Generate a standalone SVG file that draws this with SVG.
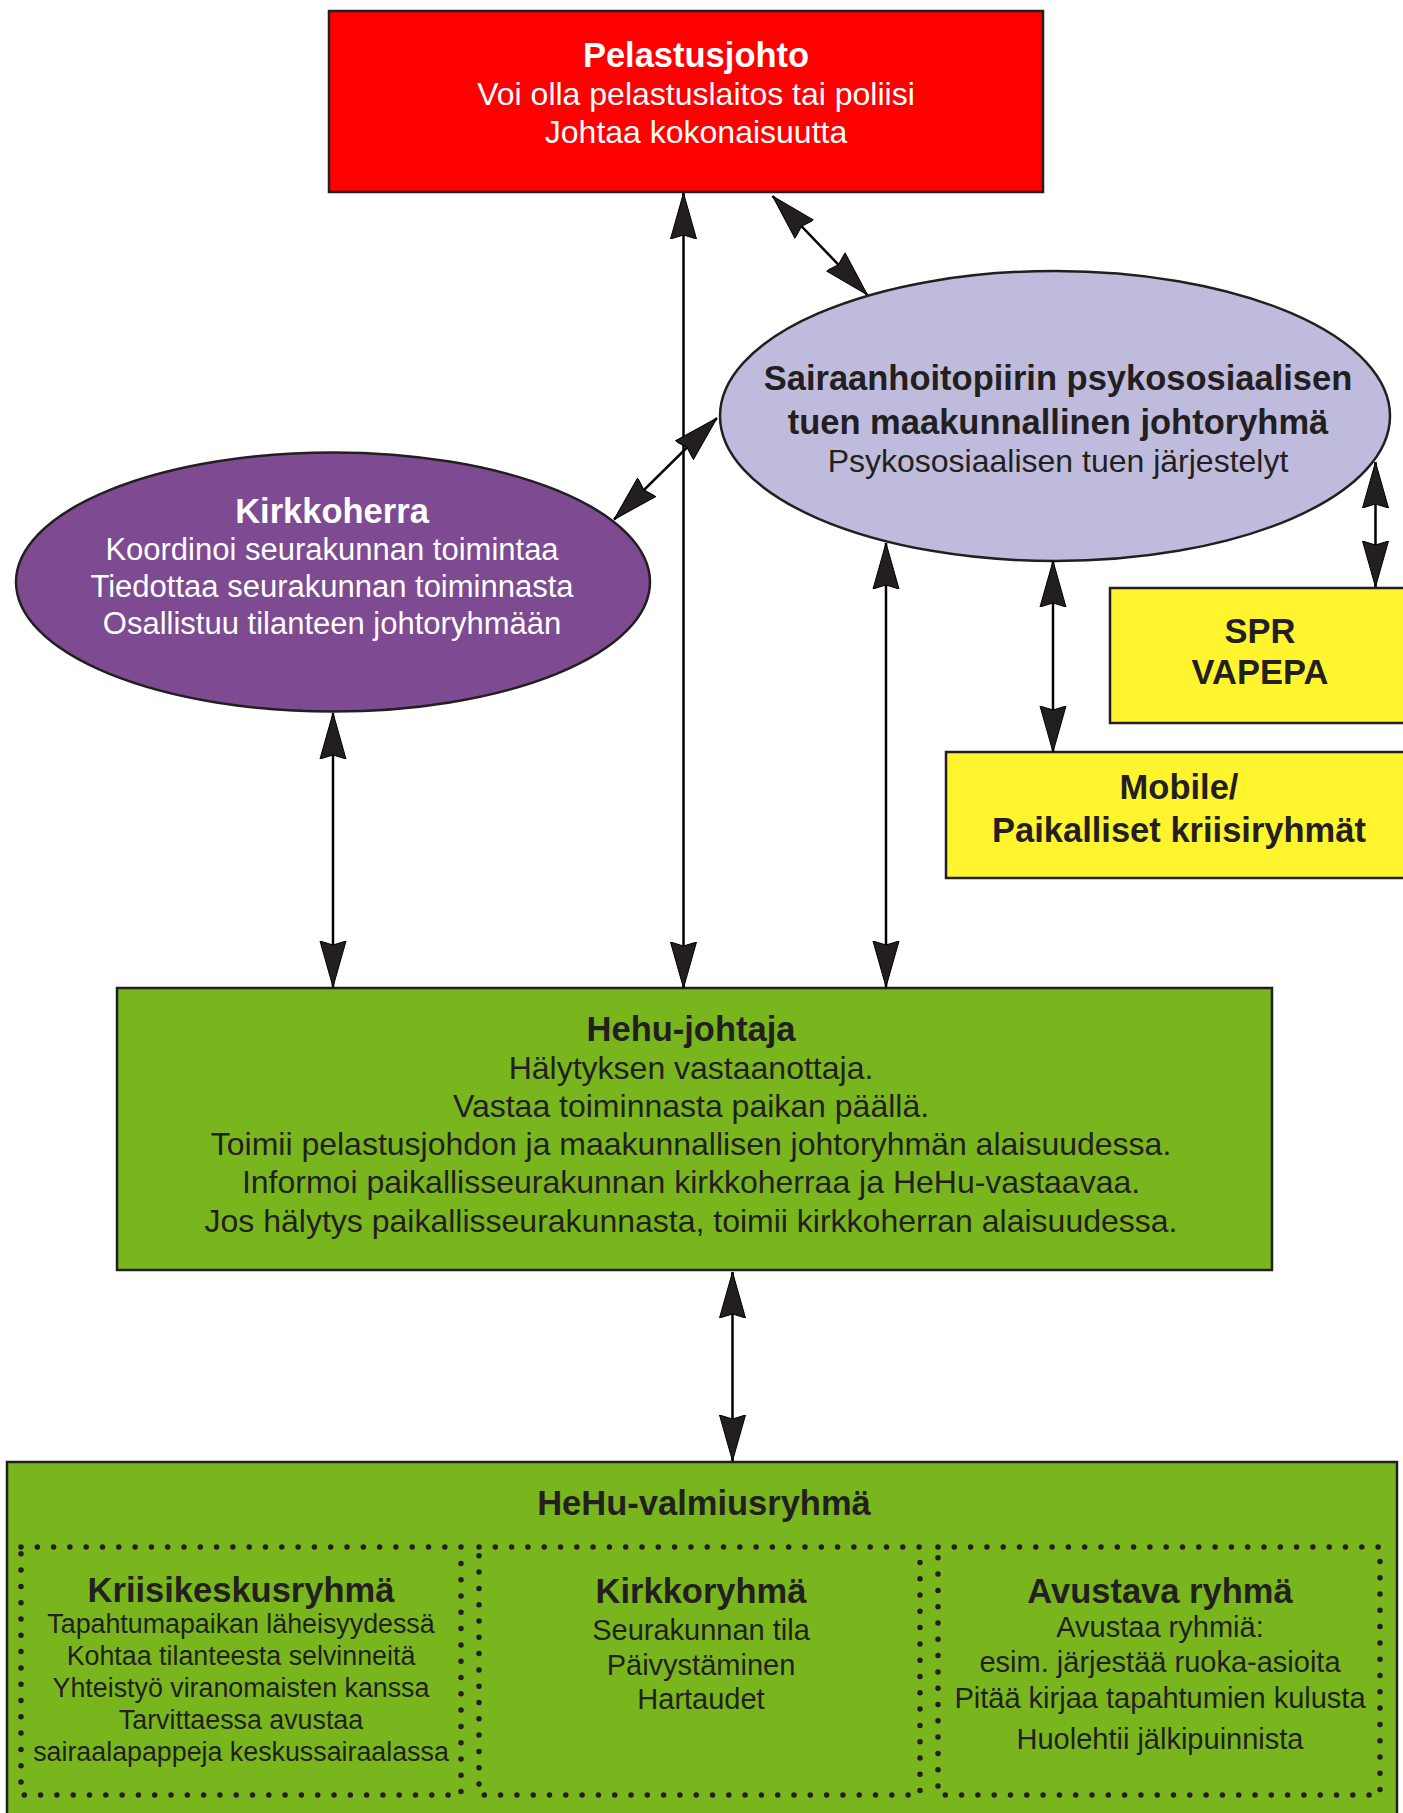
<svg xmlns="http://www.w3.org/2000/svg" width="1403" height="1813" viewBox="0 0 1403 1813">
<style>
.box{stroke:#231f20;stroke-width:2.5}
.t{font-family:"Liberation Sans",Arial,Helvetica,sans-serif;text-anchor:middle;fill:#231f20}
.w{fill:#ffffff}
.b{font-weight:bold;font-size:34.5px}
.r{font-size:32px}
.s27{font-size:26.8px}
.s29{font-size:29px}
.dot{fill:none;stroke:#231f20;stroke-width:5.5;stroke-linecap:round;stroke-dasharray:0 16.3}
.c{stroke:#000;stroke-width:2.5;fill:none;marker-start:url(#ah);marker-end:url(#ah)}
</style>
<defs>
<marker id="ah" markerUnits="userSpaceOnUse" viewBox="0 0 46 28" refX="46" refY="14" markerWidth="46" markerHeight="28" orient="auto-start-reverse">
<path d="M46,14 L0,1 L4,14 L0,27 Z" fill="#231f20" stroke="#000" stroke-width="1"/>
</marker>
</defs>
<rect width="1403" height="1813" fill="#ffffff"/>

<g id="pelastusjohto">
<rect class="box" x="329" y="11" width="714" height="181" fill="#ff0000"/>
<text class="t w b" x="696" y="67">Pelastusjohto</text>
<text class="t w r" x="696" y="105">Voi olla pelastuslaitos tai poliisi</text>
<text class="t w r" x="696" y="143">Johtaa kokonaisuutta</text>
</g>

<g id="sairaanhoitopiiri">
<ellipse class="box" cx="1055" cy="416" rx="335" ry="145" fill="#bfbbdc"/>
<text class="t b" x="1058" y="390">Sairaanhoitopiirin psykososiaalisen</text>
<text class="t b" x="1058" y="434">tuen maakunnallinen johtoryhmä</text>
<text class="t r" x="1058" y="472">Psykososiaalisen tuen järjestelyt</text>
</g>

<g id="kirkkoherra">
<ellipse class="box" cx="333" cy="582" rx="317" ry="129.5" fill="#7e4a92"/>
<text class="t w b" x="332" y="523">Kirkkoherra</text>
<text class="t w" style="font-size:31px" x="332" y="560">Koordinoi seurakunnan toimintaa</text>
<text class="t w" style="font-size:31px" x="332" y="597">Tiedottaa seurakunnan toiminnasta</text>
<text class="t w" style="font-size:31px" x="332" y="634">Osallistuu tilanteen johtoryhmään</text>
</g>

<g id="spr">
<rect class="box" x="1110" y="588" width="300" height="135" fill="#fff42e"/>
<text class="t b" x="1260" y="643">SPR</text>
<text class="t b" x="1260" y="684">VAPEPA</text>
</g>

<g id="mobile">
<rect class="box" x="946" y="752" width="466" height="126" fill="#fff42e"/>
<text class="t b" x="1179" y="799">Mobile/</text>
<text class="t b" x="1179" y="842">Paikalliset kriisiryhmät</text>
</g>

<g id="hehu-johtaja">
<rect class="box" x="117" y="988" width="1155" height="282" fill="#79b51d"/>
<text class="t b" x="691" y="1041">Hehu-johtaja</text>
<text class="t r" x="691" y="1079">Hälytyksen vastaanottaja.</text>
<text class="t r" x="691" y="1117">Vastaa toiminnasta paikan päällä.</text>
<text class="t r" x="691" y="1155">Toimii pelastusjohdon ja maakunnallisen johtoryhmän alaisuudessa.</text>
<text class="t r" x="691" y="1193">Informoi paikallisseurakunnan kirkkoherraa ja HeHu-vastaavaa.</text>
<text class="t r" x="691" y="1232">Jos hälytys paikallisseurakunnasta, toimii kirkkoherran alaisuudessa.</text>
</g>

<g id="hehu-valmiusryhma">
<rect class="box" x="7" y="1462" width="1390" height="360" fill="#79b51d"/>
<text class="t b" x="704" y="1515">HeHu-valmiusryhmä</text>
</g>

<g id="kriisikeskusryhma">
<rect class="dot" x="21" y="1547" width="440" height="248"/>
<text class="t b" x="241" y="1602">Kriisikeskusryhmä</text>
<text class="t s27" x="241" y="1633">Tapahtumapaikan läheisyydessä</text>
<text class="t s27" x="241" y="1665">Kohtaa tilanteesta selvinneitä</text>
<text class="t s27" x="241" y="1697">Yhteistyö viranomaisten kanssa</text>
<text class="t s27" x="241" y="1729">Tarvittaessa avustaa</text>
<text class="t s27" x="241" y="1761">sairaalapappeja keskussairaalassa</text>
</g>

<g id="kirkkoryhma">
<rect class="dot" x="479" y="1547" width="441" height="248"/>
<text class="t b" x="701" y="1603">Kirkkoryhmä</text>
<text class="t s29" x="701" y="1640">Seurakunnan tila</text>
<text class="t s29" x="701" y="1675">Päivystäminen</text>
<text class="t s29" x="701" y="1709">Hartaudet</text>
</g>

<g id="avustava-ryhma">
<rect class="dot" x="938" y="1547" width="442" height="248"/>
<text class="t b" x="1160" y="1603">Avustava ryhmä</text>
<text class="t s29" x="1160" y="1637">Avustaa ryhmiä:</text>
<text class="t s29" x="1160" y="1672">esim. järjestää ruoka-asioita</text>
<text class="t s29" x="1160" y="1708">Pitää kirjaa tapahtumien kulusta</text>
<text class="t s29" x="1160" y="1749">Huolehtii jälkipuinnista</text>
</g>

<g id="connectors">
<line class="c" x1="683.5" y1="193" x2="683.5" y2="988"/>
<line class="c" x1="772.5" y1="196" x2="867.5" y2="295"/>
<line class="c" x1="614" y1="519.5" x2="717" y2="418"/>
<line class="c" x1="333" y1="713" x2="333" y2="987"/>
<line class="c" x1="886" y1="543" x2="886" y2="987"/>
<line class="c" x1="1053" y1="561" x2="1053" y2="752"/>
<line class="c" x1="1375.5" y1="462" x2="1375.5" y2="587"/>
<line class="c" x1="732.5" y1="1272" x2="732.5" y2="1461"/>
</g>
</svg>
